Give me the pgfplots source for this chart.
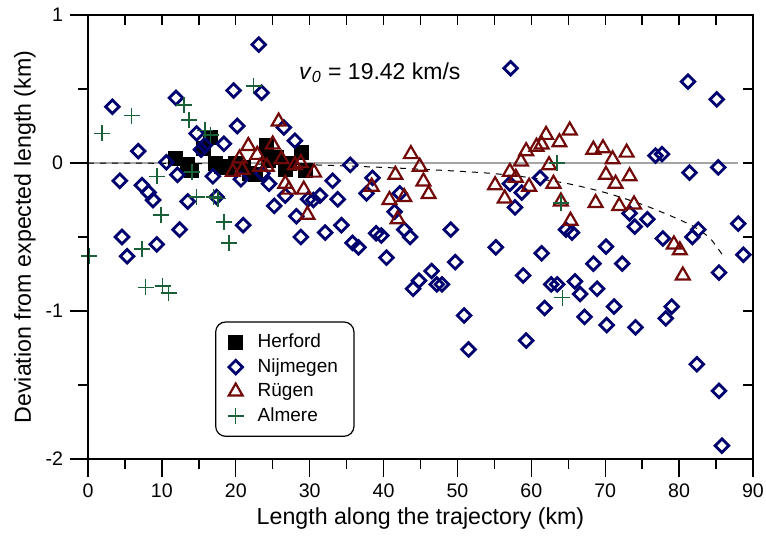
\documentclass[border=0pt]{standalone}
\usepackage{pgfplots}
\pgfplotsset{compat=1.18}
\usepackage{fontspec}
\setmainfont{Liberation Sans}
\definecolor{nij}{RGB}{0,0,110}
\definecolor{rug}{RGB}{115,10,10}
\definecolor{alm}{RGB}{25,95,55}
\begin{document}
\begin{tikzpicture}
\begin{axis}[
    name=main,
    scale only axis,
    width=332.5pt, height=222pt,
    xmin=0, xmax=90, ymin=-2, ymax=1,
    xtick={0,10,...,90}, ytick={-2,-1,0,1},
    minor x tick num=1, minor y tick num=1,
    xtick pos=bottom, ytick pos=left, tick align=outside,
    major tick length=9pt, minor tick length=5pt,
    tick style={black, line width=0.7pt},
    axis line style={line width=0.8pt},
    /pgf/number format/assume math mode=true,
    ticklabel style={font=\fontsize{9.8}{11}\selectfont},
    xlabel={Length along the trajectory (km)},
    ylabel={Deviation from expected length (km)},
    label style={font=\fontsize{11.6}{13}\selectfont},
    ylabel style={yshift=-2pt},
    xlabel style={yshift=2pt},
    legend style={at={(axis cs:17.2,-1.07)}, anchor=north west,
        rounded corners=5pt, font=\fontsize{9.5}{11}\selectfont,
        inner xsep=6pt, inner ysep=4pt, row sep=0pt, draw=black, line width=0.6pt,
        /tikz/every odd column/.append style={column sep=5pt}},
    legend cell align=left,
    clip=false,
]
% reference line and model curve
\addplot[gray!70, line width=1pt, forget plot] coordinates {(0,0) (88,0)};
\addplot[black, dashed, line width=0.5pt, smooth, forget plot] coordinates {
(0,0) (10,-0.002) (20,-0.006) (30,-0.012) (40,-0.03) (50,-0.055) (55,-0.072)
(60,-0.1) (65,-0.14) (70,-0.2) (75,-0.28) (79,-0.36) (82,-0.43) (84,-0.5)
(85,-0.56) (86,-0.63)};

\addplot[only marks, mark=square*, mark size=3.5pt, black] coordinates {
(11.8,0.03) (13.4,-0.01) (14.0,-0.05) (15.6,0.10) (16.5,0.17) (17.2,0.00)
(18.0,-0.02) (18.8,-0.03) (19.9,0.00) (21.0,-0.03) (21.9,-0.07) (22.6,-0.08)
(24.2,0.12) (24.4,0.02) (25.5,0.04) (26.7,-0.04) (27.3,0.00) (28.9,0.07) (29.4,-0.05)};
\addlegendentry{Herford}

\addplot[only marks, mark=square, mark size=2.4pt, nij,
    mark options={rotate=45, line width=1.4pt}] coordinates {
(3.3,0.38) (6.8,0.08) (4.3,-0.12) (7.3,-0.15) (8.2,-0.20) (8.8,-0.25)
(10.6,0.005) (11.9,0.44) (12.1,-0.08) (13.5,-0.26) (14.7,0.20) (15.3,0.09)
(15.8,0.12) (16.9,-0.09) (18.4,0.13) (19.7,0.49) (20.2,0.25) (20.7,-0.11)
(23.1,0.80) (23.5,0.475) (23.6,-0.07) (24.5,-0.14) (25.2,-0.29) (26.5,0.24)
(28.0,0.15) (28.2,-0.36) (4.6,-0.50) (5.3,-0.63) (9.3,-0.55) (12.4,-0.45)
(17.4,-0.23) (21.0,-0.42) (26.7,-0.22) (28.8,-0.50) (29.8,-0.245) (30.5,-0.25)
(31.4,-0.22) (32.1,-0.47) (33.1,-0.12) (33.8,-0.245) (34.3,-0.42) (35.5,-0.013)
(35.8,-0.54) (36.6,-0.57) (37.7,-0.205) (38.5,-0.10) (39.0,-0.475) (39.7,-0.49)
(40.4,-0.64) (41.5,-0.33) (42.2,-0.205) (42.8,-0.45) (43.6,-0.50) (44.0,-0.85)
(44.8,-0.795) (46.5,-0.73) (47.2,-0.82) (47.9,-0.82) (49.1,-0.45) (49.7,-0.67)
(50.9,-1.03) (51.5,-1.26) (55.2,-0.57) (57.1,-0.14) (57.2,0.64) (57.8,-0.30)
(58.7,-0.20) (58.9,-0.76) (59.3,-1.20) (61.2,-0.10) (61.4,-0.61) (61.8,-0.98)
(62.7,-0.82) (63.5,-0.82) (64.7,-0.45) (65.5,-0.47) (65.9,-0.80) (66.6,-0.885)
(67.2,-1.04) (68.4,-0.68) (68.9,-0.85) (70.1,-0.565) (70.2,-1.095) (71.2,-0.97)
(72.3,-0.68) (73.3,-0.34) (74.0,-0.43) (74.1,-1.11) (75.7,-0.38) (76.8,0.05)
(77.7,0.06) (77.8,-0.51) (78.2,-1.05) (79.0,-0.97) (81.2,0.55) (81.4,-0.065)
(81.8,-0.50) (82.6,-0.45) (82.4,-1.36) (85.1,0.43) (85.3,-0.03) (85.4,-0.74)
(85.4,-1.54) (85.8,-1.91) (88.0,-0.41) (88.7,-0.62)};
\addlegendentry{Nijmegen}

\addplot[only marks, mark=triangle, mark size=4pt, rug,
    mark options={line width=1.1pt}] coordinates {
(25.8,0.28) (21.7,0.115) (25.0,0.125) (22.9,0.055) (20.5,0.03) (19.6,-0.06)
(20.9,-0.045) (23.3,-0.025) (24.2,-0.025) (26.2,0.025) (28.0,-0.015) (28.8,0.00)
(30.6,-0.065) (26.7,-0.14) (27.2,-0.18) (29.2,-0.18) (29.7,-0.35) (43.7,0.06)
(44.9,-0.025) (41.6,-0.08) (45.4,-0.125) (38.4,-0.16) (46.1,-0.21) (42.8,-0.23)
(40.8,-0.25) (41.9,-0.38) (55.1,-0.15) (56.4,-0.24) (57.1,-0.06) (57.9,-0.10)
(58.6,0.01) (59.3,0.08) (59.7,-0.16) (60.7,0.11) (61.4,0.125) (62.0,0.19)
(62.4,-0.015) (63.0,-0.14) (63.8,0.14) (64.0,-0.26) (65.2,0.22) (65.3,-0.39)
(68.4,0.09) (69.7,0.10) (70.1,-0.08) (71.0,0.025) (71.4,-0.14) (72.9,0.07)
(73.3,-0.09) (68.7,-0.27) (71.9,-0.29) (73.9,-0.28) (79.3,-0.55) (80.1,-0.59)
(80.5,-0.76)};
\addlegendentry{Rügen}

\addplot[only marks, mark=+, mark size=4pt, alm,
    mark options={line width=0.8pt}] coordinates {
(0.2,-0.63) (1.9,0.20) (5.9,0.32) (7.3,-0.58) (7.8,-0.84) (9.3,-0.09)
(9.9,-0.35) (10.1,-0.83) (10.9,-0.88) (13.0,0.39) (13.7,0.29) (14.1,-0.06)
(14.7,-0.23) (15.8,0.22) (16.6,0.19) (17.0,-0.23) (17.6,-0.24) (18.4,-0.40)
(19.1,-0.54) (22.4,0.52) (63.5,0.00) (64.0,-0.27) (64.2,-0.91)};
\addlegendentry{Almere}

\node[font=\fontsize{11.5}{13}\selectfont] at (axis cs:39.5,0.61)
    {\textit{v}\textsubscript{\textit{0}} = 19.42 km/s};
\end{axis}
% inward ticks on the top and right sides
\begin{axis}[
    at={(main.south west)}, anchor=south west,
    scale only axis,
    width=332.5pt, height=222pt,
    xmin=0, xmax=90, ymin=-2, ymax=1,
    xtick={0,5,...,90}, ytick={-2,-1.5,...,1},
    xtick pos=top, ytick pos=right, tick align=inside,
    major tick length=5pt,
    tick style={black, line width=0.7pt},
    axis line style={line width=0.8pt},
    xticklabels={}, yticklabels={},
    ticklabel style={inner sep=0pt, outer sep=0pt},
    typeset ticklabels with strut=false,
]
\end{axis}
\pgfresetboundingbox
\path[use as bounding box] ([shift={(-44pt,-41.5pt)}]main.south west) rectangle ++(383pt,271pt);
\end{tikzpicture}
\end{document}
